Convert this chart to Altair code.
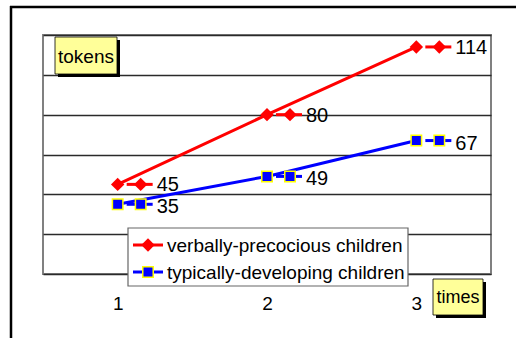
import altair as alt
import pandas as pd

# Survey rounds and token counts per group
times = [1, 2, 3]
series_names = ["verbally-precocious children", "typically-developing children"]
verbal_tokens = [45, 80, 114]
typical_tokens = [35, 49, 67]
y_ticks = [0, 20, 40, 60, 80, 100, 120]

FONT = "Liberation Sans, Arial, sans-serif"
RED = "#FF0000"
BLUE = "#0000FF"
YELLOW_BOX = "#FFFF99"

x_scale = alt.Scale(domain=[0.5, 3.5], nice=False, zero=False)
y_scale = alt.Scale(domain=[0, 120], nice=False, zero=True)

x_axis = alt.Axis(values=times, title=None, labelFontSize=19, labelFont=FONT,
                  labelColor="black", labelPadding=20, ticks=False, domain=False,
                  grid=False, labelAngle=0)
y_axis = alt.Axis(values=y_ticks, title=None, labels=False, ticks=False,
                  domain=False, grid=True, gridColor="#2a2a2a", gridWidth=1.5,
                  gridOpacity=1)


def series_layers(values, color, shape, size, stroke, stroke_width, label_dy):
    df = pd.DataFrame({"time": times, "tokens": values})
    base = alt.Chart(df).encode(
        x=alt.X("time:Q", scale=x_scale, axis=x_axis),
        y=alt.Y("tokens:Q", scale=y_scale, axis=y_axis),
    )
    line = base.mark_line(color=color, strokeWidth=3)
    pts = base.mark_point(shape=shape, size=size, filled=True, fill=color,
                          stroke=stroke, strokeWidth=stroke_width, opacity=1)
    # data label: small legend key followed by the value
    key_line = base.mark_rule(color=color, strokeWidth=3,
                              xOffset=9, x2Offset=35).encode(x2="time:Q")
    key_pt = base.mark_point(shape=shape, size=size, filled=True, fill=color,
                             stroke=stroke, strokeWidth=stroke_width, opacity=1,
                             xOffset=23)
    label = base.mark_text(align="left", baseline="middle", dx=39, dy=label_dy,
                           fontSize=20, font=FONT, color="black").encode(
        text="tokens:Q")
    return [line, pts, key_line, key_pt, label]


red_layers = series_layers(verbal_tokens, RED, "diamond", 180, RED, 0, 1)
blue_layers = series_layers(typical_tokens, BLUE, "square", 110, "#FFFF00", 1.5, 3)

one = pd.DataFrame({"k": [0]})


def value_rect(x, x2, y, y2, **kw):
    return alt.Chart(one).mark_rect(**kw).encode(
        x=alt.value(x), x2=alt.value(x2), y=alt.value(y), y2=alt.value(y2))


def value_rule(x, x2, y, y2, **kw):
    return alt.Chart(one).mark_rule(**kw).encode(
        x=alt.value(x), x2=alt.value(x2), y=alt.value(y), y2=alt.value(y2))


# outer frame (top and left edges)
frame = [
    value_rule(-33, 473, -28, -28, color="black", strokeWidth=2.5),
    value_rule(-32, -32, -29, 303, color="black", strokeWidth=2.5),
]

# legend box with line+marker keys
legend = [value_rect(85, 365, 193, 251, fill="white", stroke="#666666",
                     strokeWidth=1.2)]
for i, (name, color, shape, size, stroke, sw) in enumerate([
        (series_names[0], RED, "diamond", 180, RED, 0),
        (series_names[1], BLUE, "square", 110, "#FFFF00", 1.5)]):
    yy = 210 + i * 27
    legend.append(value_rule(90, 120, yy, yy, color=color, strokeWidth=3))
    legend.append(alt.Chart(one).mark_point(
        shape=shape, size=size, filled=True, fill=color, stroke=stroke,
        strokeWidth=sw, opacity=1).encode(x=alt.value(105), y=alt.value(yy)))
    legend.append(alt.Chart(pd.DataFrame({"label": [name]})).mark_text(
        align="left", baseline="middle", fontSize=19, font=FONT,
        color="black", dy=1).encode(
        x=alt.value(124), y=alt.value(yy), text="label:N"))


def callout(text, x, x2, y, y2, size):
    return [
        value_rect(x + 3, x2 + 3, y + 3, y2 + 3, fill="black"),
        value_rect(x, x2, y, y2, fill=YELLOW_BOX, stroke="black",
                   strokeWidth=0.8),
        alt.Chart(pd.DataFrame({"t": [text]})).mark_text(
            align="center", baseline="middle", fontSize=size, font=FONT,
            color="black", dy=1).encode(
            x=alt.value((x + x2) / 2), y=alt.value((y + y2) / 2), text="t:N"),
    ]


tokens_box = callout("tokens", 12, 74, 2, 39, 19)
times_box = callout("times", 390, 440, 244, 280, 18)

chart = alt.layer(
    *red_layers[:2], *blue_layers[:2],
    *red_layers[2:], *blue_layers[2:],
    *legend, *tokens_box, *times_box, *frame,
).properties(
    width=448, height=239,
    autosize=alt.AutoSizeParams(type="none"),
    padding={"left": 43, "top": 35, "right": 25, "bottom": 64},
    background="white",
).configure_view(
    stroke="#808080", strokeWidth=2,
)

chart.save("out.html", embed_options={"renderer": "svg", "actions": False})
